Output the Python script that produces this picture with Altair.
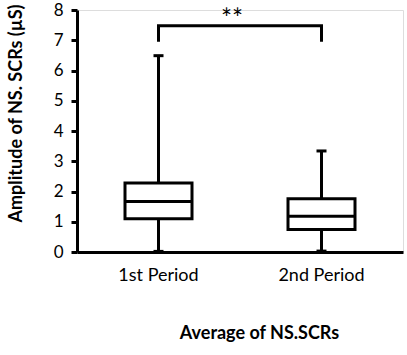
import altair as alt
import pandas as pd

categories = ["1st Period", "2nd Period"]
mins = [0.02, 0.03]
q1s = [1.10, 0.74]
medians = [1.67, 1.18]
q3s = [2.28, 1.76]
maxs = [6.49, 3.34]

bracket_x = ["1st Period", "1st Period", "2nd Period", "2nd Period"]
bracket_y = [6.95, 7.48, 7.48, 6.95]
bracket_order = [0, 1, 2, 3]
sig_label = ["**"]
sig_y = [7.4]
y_ticks = [0, 1, 2, 3, 4, 5, 6, 7, 8]

df = pd.DataFrame({"cat": categories, "lo": mins, "q1": q1s, "med": medians, "q3": q3s, "hi": maxs})
br = pd.DataFrame({"cat": bracket_x, "y": bracket_y, "o": bracket_order})
sig = pd.DataFrame({"t": sig_label, "y": sig_y})

FONT = "Lato"
W, H = 326, 242

xaxis = alt.Axis(title="Average of NS.SCRs", labelAngle=0, labelFontSize=18,
                 labelFont=FONT, labelColor="black", labelPadding=14,
                 ticks=False, domainColor="black", domainWidth=3,
                 titleFont=FONT, titleFontSize=18, titleFontWeight="bold",
                 titleColor="black", titlePadding=40, titleX=182)
yaxis = alt.Axis(title="Amplitude of NS. SCRs (µS)", values=y_ticks, tickCount=9,
                 labelOverlap=False, labelFontSize=17, labelFont=FONT,
                 labelColor="black", labelPadding=8, tickColor="black",
                 tickWidth=3, tickSize=6, domainColor="black", domainWidth=3,
                 grid=False, titleFont=FONT, titleFontSize=18,
                 titleFontWeight="bold", titleColor="black", titleX=-61,
                 titleY=103, titleBaseline="middle", titlePadding=0)
xscale = alt.Scale(domain=categories, paddingInner=0, paddingOuter=0)
yscale = alt.Scale(domain=[0, 8], nice=False)


def xe():
    return alt.X("cat:N", sort=categories, scale=xscale, axis=xaxis)


def ye(field):
    return alt.Y(field, type="quantitative", scale=yscale, axis=yaxis)


base = alt.Chart(df)
whisk = base.mark_rule(color="black", strokeWidth=3).encode(x=xe(), y=ye("lo"), y2="hi:Q")
box = base.mark_bar(size=67, fill="white", stroke="black", strokeWidth=3, opacity=1).encode(
    x=xe(), y=ye("q1"), y2="q3:Q")
med = base.mark_tick(size=67, thickness=3, color="black", opacity=1).encode(x=xe(), y=ye("med"))
capHi = base.mark_tick(size=10, thickness=3, color="black", opacity=1).encode(x=xe(), y=ye("hi"))
capLo = base.mark_tick(size=10, thickness=3, color="black", opacity=1).encode(x=xe(), y=ye("lo"))

brk = alt.Chart(br).mark_line(color="black", strokeWidth=3, strokeCap="butt").encode(
    x=xe(), y=ye("y"), order="o:Q")
star = alt.Chart(sig).mark_text(font=FONT, fontSize=26, fill="black", color="black",
                                baseline="alphabetic").encode(
    x=alt.value(155), y=ye("y"), text="t:N")

chart = alt.layer(whisk, box, med, capHi, capLo, brk, star).properties(
    width=W, height=H,
    autosize=alt.AutoSizeParams(type="none"),
    padding={"left": 77, "top": 10, "right": 4, "bottom": 103},
).configure_view(stroke=None).configure(background="white")

chart.save("out.html", embed_options={"renderer": "svg", "actions": False})
